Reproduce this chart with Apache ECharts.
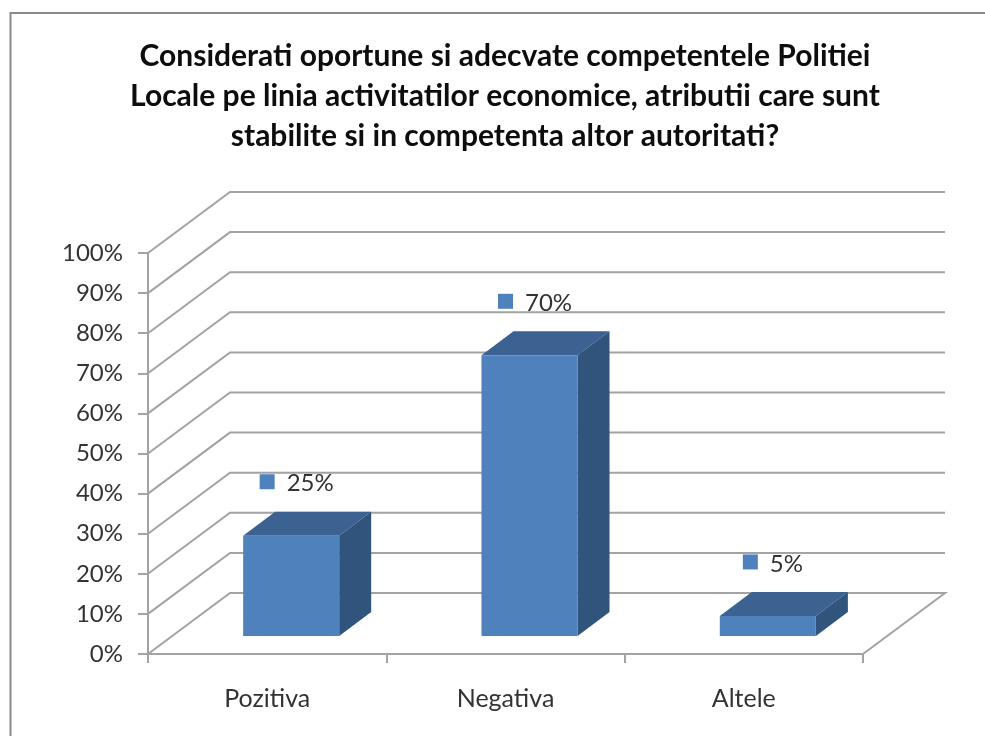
<!DOCTYPE html>
<html>
<head>
<meta charset="utf-8">
<style>html,body{margin:0;padding:0;background:#fff}#c{width:985px;height:736px}</style>
<script src="https://cdn.jsdelivr.net/npm/echarts@6/dist/echarts.min.js"></script>
</head>
<body>
<div id="c"></div>
<script>
const categories = ['Pozitiva', 'Negativa', 'Altele'];
const values = [25, 70, 5];
const gridTicks = [0, 10, 20, 30, 40, 50, 60, 70, 80, 90, 100];
const titleLines = [
  'Considerati oportune si adecvate competentele Politiei',
  'Locale pe linia activitatilor economice, atributii care sunt',
  'stabilite si in competenta altor autoritati?'
];

const FONT = 'Lato, "Open Sans", sans-serif';
const WALL = '#a3a3a3';
const DEPTH_X = 82, DEPTH_Y = 61;
const BAR_SHIFT_X = 24, BAR_SHIFT_Y = 18, BAR_DX = 32, BAR_DY = 24;

function wallItem(params, api) {
  const v = api.value(1);
  const band = api.size([1, 0])[0];
  const p = api.coord([0, v]);
  const x0 = p[0] - band / 2, x1 = x0 + band * categories.length, y = p[1];
  const pts = [[x0, y], [x0 + DEPTH_X, y - DEPTH_Y], [x1 + DEPTH_X, y - DEPTH_Y]];
  if (v === 0) pts.push([x1, y]);
  return {
    type: 'polyline',
    shape: { points: pts },
    style: { fill: null, stroke: WALL, lineWidth: 2 }
  };
}

function barItem(params, api) {
  const idx = api.value(0), v = api.value(1);
  const top = api.coord([idx, v]), base = api.coord([idx, 0]);
  const w = api.size([1, 0])[0] * 0.403;
  const cx = top[0] + BAR_SHIFT_X;
  const l = cx - w / 2, r = cx + w / 2;
  const yt = top[1] - BAR_SHIFT_Y, yb = base[1] - BAR_SHIFT_Y;
  return {
    type: 'group',
    children: [
      { type: 'polygon', shape: { points: [[l, yt], [l + BAR_DX, yt - BAR_DY], [r + BAR_DX, yt - BAR_DY], [r, yt]] }, style: { fill: '#3c6291' } },
      { type: 'polygon', shape: { points: [[r, yb], [r + BAR_DX, yb - BAR_DY], [r + BAR_DX, yt - BAR_DY], [r, yt]] }, style: { fill: '#31547d' } },
      { type: 'rect', shape: { x: l, y: yt, width: w, height: yb - yt }, style: { fill: '#4f81bd' } }
    ]
  };
}

function labelItem(params, api) {
  const idx = api.value(0), v = api.value(1);
  const top = api.coord([idx, v]);
  const cx = top[0] + BAR_SHIFT_X;
  const cy = top[1] - BAR_SHIFT_Y - 54;
  const textW = String(v).length * 13 + 22;
  const left = cx + 6 - (27 + textW) / 2;
  return {
    type: 'group',
    children: [
      { type: 'rect', shape: { x: left, y: cy - 7.5, width: 15, height: 15 }, style: { fill: '#4f81bd' } },
      { type: 'text', style: { x: left + 27, y: cy + 2, text: v + '%', fill: '#333', font: '24px ' + FONT, textAlign: 'left', textVerticalAlign: 'middle' } }
    ]
  };
}

const chart = echarts.init(document.getElementById('c'), null, { renderer: 'canvas' });
chart.setOption({
  animation: false,
  backgroundColor: '#ffffff',
  title: {
    text: titleLines.join('\n'),
    left: 500, top: 31, textAlign: 'center',
    textStyle: { fontFamily: FONT, fontWeight: 'bold', fontSize: 30, lineHeight: 40, color: '#0d0d0d' }
  },
  graphic: [
    { type: 'polyline', shape: { points: [[10.5, 736], [10.5, 13], [985, 13]] }, style: { fill: null, stroke: '#8a8a8a', lineWidth: 2 }, silent: true }
  ],
  grid: { left: 148, right: 122, top: 253, bottom: 82 },
  xAxis: {
    type: 'category', data: categories, boundaryGap: true,
    axisLine: { onZero: false, lineStyle: { color: WALL, width: 2 } },
    axisTick: { show: true, alignWithLabel: false, length: 9, lineStyle: { color: WALL, width: 2 } },
    axisLabel: { fontFamily: FONT, fontSize: 25, color: '#333', margin: 32 },
    splitLine: { show: false }
  },
  yAxis: {
    type: 'value', min: 0, max: 100, interval: 10,
    axisLine: { show: true, lineStyle: { color: WALL, width: 2 } },
    axisTick: { show: true, length: 10, lineStyle: { color: WALL, width: 2 } },
    axisLabel: { fontFamily: FONT, fontSize: 24, color: '#333', margin: 25, padding: [4, 0, 0, 0], formatter: '{value}%' },
    splitLine: { show: false }
  },
  series: [
    { type: 'custom', silent: true, z: 1, renderItem: wallItem, encode: { x: 0, y: 1 },
      data: gridTicks.map(t => [0, t]) },
    { type: 'custom', silent: true, z: 3, renderItem: barItem, encode: { x: 0, y: 1 },
      data: values.map((v, i) => [i, v]) },
    { type: 'custom', silent: true, z: 4, renderItem: labelItem, encode: { x: 0, y: 1 },
      data: values.map((v, i) => [i, v]) }
  ]
});
</script>
</body>
</html>
